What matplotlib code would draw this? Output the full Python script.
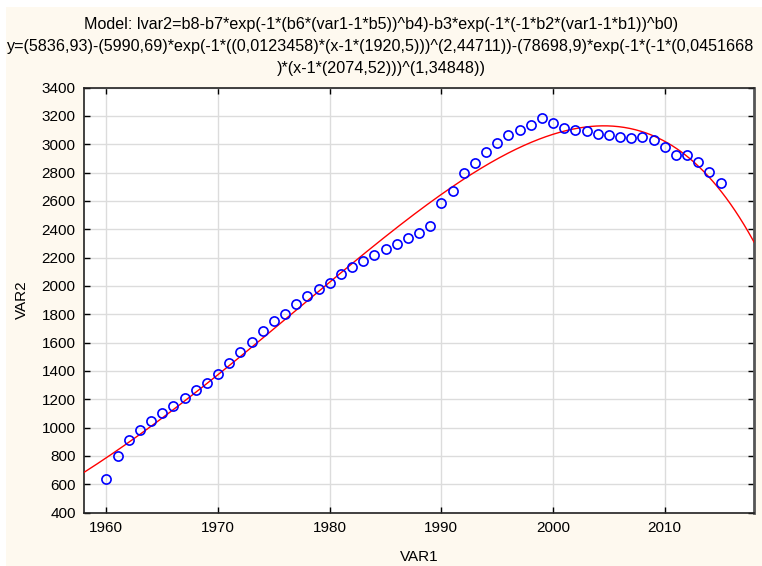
import numpy as np
import matplotlib
matplotlib.use("Agg")
import matplotlib.pyplot as plt
from matplotlib.patches import Rectangle

# Observed data
years = list(range(1960, 2016))
var2 = [635, 798, 913, 983, 1047, 1101, 1155, 1211, 1268, 1317,
        1381, 1454, 1532, 1604, 1680, 1751, 1804, 1871, 1927, 1976,
        2019, 2084, 2132, 2176, 2216, 2261, 2298, 2339, 2376, 2425,
        2587, 2670, 2797, 2870, 2948, 3011, 3062, 3103, 3138, 3185,
        3148, 3117, 3101, 3094, 3071, 3066, 3054, 3047, 3054, 3030,
        2979, 2922, 2922, 2873, 2804, 2727]

# Fitted model parameters (from the title)
b8, b7, b6, b5, b4 = 5836.93, 5990.69, 0.0123458, 1920.5, 2.44711
b3, b2, b1, b0 = 78698.9, 0.0451668, 2074.52, 1.34848

title_lines = [
    "Model: lvar2=b8-b7*exp(-1*(b6*(var1-1*b5))^b4)-b3*exp(-1*(-1*b2*(var1-1*b1))^b0)",
    "y=(5836,93)-(5990,69)*exp(-1*((0,0123458)*(x-1*(1920,5)))^(2,44711))-(78698,9)*exp(-1*(-1*(0,0451668",
    ")*(x-1*(2074,52)))^(1,34848))",
]
xticks = [1960, 1970, 1980, 1990, 2000, 2010]
yticks = list(range(400, 3401, 200))

W, H = 762, 566
fig = plt.figure(figsize=(W / 100, H / 100), dpi=100, facecolor="white")
bg = Rectangle((6 / W, 0), 1, 1 - 7 / H, transform=fig.transFigure,
               facecolor="#FEF9EF", edgecolor="none", zorder=-10)
fig.add_artist(bg)

ax = fig.add_axes([84 / W, 1 - 512.6 / H, (754 - 84) / W, (512.6 - 87.6) / H])
ax.set_zorder(1)
ax.set_facecolor("white")

xs = np.linspace(1958, 2018, 600)
curve = b8 - b7 * np.exp(-(b6 * (xs - b5)) ** b4) - b3 * np.exp(-(-b2 * (xs - b1)) ** b0)
ax.plot(xs, curve, color="#FF0000", lw=1.0, zorder=3)
ax.plot(years, var2, linestyle="none", marker="o", markersize=6.6,
        markerfacecolor="none", markeredgecolor="#0000FF", markeredgewidth=1.2, zorder=4)

ax.set_xlim(1958, 2018)
ax.set_ylim(400, 3400)
ax.set_xticks(xticks)
ax.set_yticks(yticks)
ax.grid(True, color="#DCDCDC", lw=1.0)
ax.set_axisbelow(True)
ax.tick_params(direction="in", length=4, width=1, top=True, right=True,
               labelsize=11, pad=6, colors="black")
for lab in ax.get_xticklabels() + ax.get_yticklabels():
    lab.set_family(["Liberation Sans", "DejaVu Sans"])
for s in ax.spines.values():
    s.set_color("#222222")
    s.set_linewidth(1.2)
ax.spines["right"].set_color("#555555")
ax.spines["right"].set_linewidth(2)

ax.set_xlabel("VAR1", fontsize=11, family=["Liberation Sans", "DejaVu Sans"], labelpad=11)
ax.set_ylabel("VAR2", fontsize=11, family=["Liberation Sans", "DejaVu Sans"], labelpad=9)

tfam = ["Liberation Sans Narrow", "Liberation Sans", "DejaVu Sans"]
for i, (t, yp) in enumerate(zip(title_lines, [24, 46, 68])):
    fig.text(0.5, 1 - yp / H, t, ha="center", va="center", fontsize=11.6, family=tfam)

fig.savefig("out.png", dpi=100, facecolor=fig.get_facecolor())
